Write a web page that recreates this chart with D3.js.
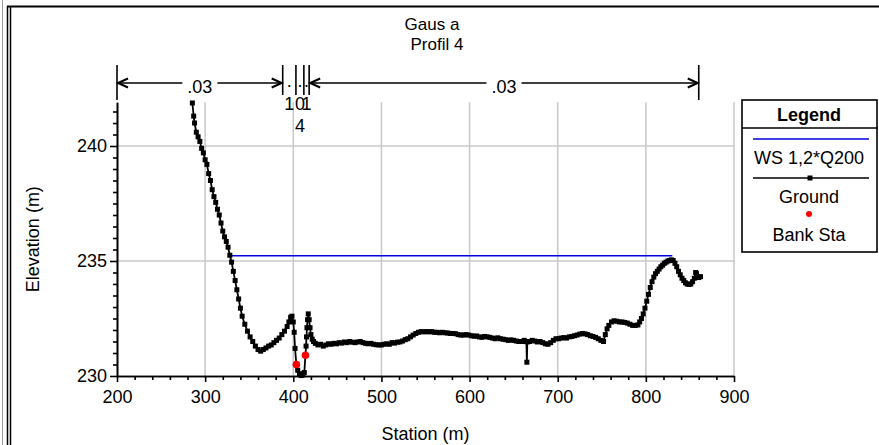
<!DOCTYPE html>
<html>
<head>
<meta charset="utf-8">
<script src="https://cdn.jsdelivr.net/npm/d3@7"></script>
<style>
body { margin: 0; background: #fff; }
text { font-family: "Liberation Sans", Arial, sans-serif; fill: #000; }
</style>
</head>
<body>
<svg id="app" width="879" height="445"></svg>
<script>
// ground profile (station m, elevation m)
const groundSta = [285.5, 287, 288, 290, 292, 294, 296, 298, 300, 302, 304, 306, 308, 310, 312, 314, 316, 318, 320, 322,
  324, 326, 328, 330, 332, 334, 336, 338, 340, 342, 345, 348, 351, 354, 357, 360, 363, 366, 369, 372,
  375, 378, 381, 384, 387, 390, 393, 395, 397, 398.5, 400, 401, 402, 403.5, 405, 407, 409, 411, 412.5, 413.8,
  414.5, 415, 415.5, 416.2, 417, 418, 419, 420, 421.5, 423, 425, 428, 431, 434, 437, 440, 443, 446, 449, 452,
  455, 458, 461, 464, 467, 470, 473, 476, 479, 482, 485, 488, 491, 494, 497, 500, 503, 506, 509, 512,
  515, 518, 521, 524, 527, 530, 533, 536, 539, 542, 545, 548, 551, 554, 557, 560, 563, 566, 569, 572,
  575, 578, 581, 584, 587, 590, 593, 596, 599, 602, 605, 608, 611, 614, 617, 620, 623, 626, 629, 632,
  635, 638, 641, 644, 647, 650, 653, 656, 659, 662, 664.5, 665, 665.5, 668, 671, 674, 677, 680, 683, 686,
  689, 692, 695, 698, 701, 704, 707, 710, 713, 716, 719, 722, 725, 728, 731, 734, 737, 740, 743, 746,
  749, 752, 754, 756, 758, 761, 764, 767, 770, 773, 776, 779, 782, 785, 788, 791, 793, 795, 797, 799,
  801, 803, 805, 807, 809, 811, 813, 815, 817, 819, 821, 823, 825, 827, 829, 831, 833, 835, 837, 839,
  841, 843, 845, 847, 849, 851, 853, 855, 856.5, 857.5, 858.5, 860, 862];
const groundElev = [241.87, 241.3, 241.0, 240.6, 240.4, 240.2, 239.9, 239.7, 239.4, 239.2, 238.8, 238.5, 238.1, 237.8, 237.55, 237.25, 237.0, 236.65, 236.3, 236.05,
  235.85, 235.6, 235.25, 234.95, 234.55, 234.15, 233.75, 233.35, 232.95, 232.6, 232.25, 231.95, 231.7, 231.5, 231.3, 231.15, 231.08, 231.15, 231.22, 231.3,
  231.35, 231.45, 231.55, 231.65, 231.8, 231.95, 232.15, 232.35, 232.55, 232.6, 232.35, 231.9, 231.2, 230.5, 230.25, 230.1, 230.02, 230.05, 230.15, 230.9,
  231.3, 231.7, 232.1, 232.45, 232.7, 232.45, 232.1, 231.8, 231.6, 231.5, 231.42, 231.35, 231.38, 231.3, 231.35, 231.4, 231.38, 231.42, 231.4, 231.45,
  231.43, 231.48, 231.45, 231.5, 231.47, 231.45, 231.48, 231.5, 231.45, 231.42, 231.4, 231.42, 231.38, 231.36, 231.35, 231.35, 231.38, 231.4, 231.38, 231.45,
  231.43, 231.47, 231.48, 231.52, 231.58, 231.62, 231.7, 231.78, 231.85, 231.9, 231.93, 231.92, 231.93, 231.92, 231.93, 231.9, 231.9, 231.88, 231.9, 231.88,
  231.87, 231.85, 231.85, 231.84, 231.8, 231.78, 231.78, 231.8, 231.78, 231.75, 231.73, 231.74, 231.7, 231.68, 231.72, 231.7, 231.68, 231.65, 231.62, 231.66,
  231.62, 231.6, 231.58, 231.55, 231.57, 231.55, 231.52, 231.5, 231.5, 231.55, 231.5, 230.6, 231.48, 231.5, 231.55, 231.52, 231.48, 231.5, 231.45, 231.4,
  231.38, 231.45, 231.55, 231.62, 231.62, 231.65, 231.67, 231.65, 231.7, 231.72, 231.75, 231.78, 231.82, 231.85, 231.83, 231.8, 231.75, 231.72, 231.68, 231.62,
  231.55, 231.5, 231.8, 232.05, 232.2, 232.35, 232.4, 232.38, 232.35, 232.35, 232.33, 232.3, 232.25, 232.2, 232.2, 232.22, 232.35, 232.5, 232.7, 232.95,
  233.25, 233.55, 233.85, 234.1, 234.3, 234.45, 234.55, 234.65, 234.75, 234.82, 234.9, 234.95, 235.0, 235.02, 235.05, 235.02, 234.9, 234.75, 234.55, 234.4,
  234.25, 234.15, 234.05, 234.0, 233.98, 234.0, 234.1, 234.25, 234.5, 234.45, 234.3, 234.28, 234.32];
const bankSta = [403.5, 413.8];
const bankElev = [230.5, 230.9];
const wsSta = [328, 830];
const wsElev = [235.23, 235.23];
// Manning's n breaks and values
const nSta = [200, 388, 403, 412, 418, 860];
const nVal = [".03", ".1", ".04", ".1", ".03"];
const xTicks = [200, 300, 400, 500, 600, 700, 800, 900];
const yTicks = [230, 235, 240];

const FONT = 18;
const PLOT = { LEFT: 117, RIGHT: 734, TOP: 102.3, BOTTOM: 376 };

var svg = d3.select("#app");

const xScale = d3.scaleLinear().domain([200, 900]).range([PLOT.LEFT, PLOT.RIGHT]);
const yScale = d3.scaleLinear().domain([230, 241.9]).range([PLOT.BOTTOM, PLOT.TOP]);

// outer frame
svg.append("line").attr("x1", 2.5).attr("x2", 2.5).attr("y1", 0).attr("y2", 445).attr("stroke", "#999").attr("stroke-width", 1);
svg.append("line").attr("x1", 7.5).attr("x2", 7.5).attr("y1", 6).attr("y2", 445).attr("stroke", "#000").attr("stroke-width", 1.5);
svg.append("line").attr("x1", 10.5).attr("x2", 10.5).attr("y1", 6).attr("y2", 445).attr("stroke", "#000").attr("stroke-width", 1.5);
svg.append("line").attr("x1", 7).attr("x2", 879).attr("y1", 6.5).attr("y2", 6.5).attr("stroke", "#000").attr("stroke-width", 2);

// gridlines
svg.append("g").selectAll("line").data(xTicks.slice(1)).enter().append("line")
  .attr("x1", d => xScale(d)).attr("x2", d => xScale(d))
  .attr("y1", PLOT.TOP).attr("y2", PLOT.BOTTOM)
  .attr("stroke", "#c8c8c8").attr("stroke-width", 1.5);
svg.append("g").selectAll("line").data(yTicks.slice(1)).enter().append("line")
  .attr("x1", PLOT.LEFT).attr("x2", PLOT.RIGHT)
  .attr("y1", d => yScale(d)).attr("y2", d => yScale(d))
  .attr("stroke", "#c8c8c8").attr("stroke-width", 1.5);

// x axis
var gx = svg.append("g").attr("transform", `translate(0,${PLOT.BOTTOM})`)
  .call(d3.axisBottom(xScale).tickValues(xTicks).tickSize(6).tickSizeOuter(0).tickPadding(8).tickFormat(d3.format("d")));
svg.append("g").attr("transform", `translate(0,${PLOT.BOTTOM})`)
  .call(d3.axisBottom(xScale).tickValues(d3.range(220, 900, 20).filter(d => d % 100 != 0)).tickSize(4).tickSizeOuter(0).tickFormat(""));

// y axis
var gy = svg.append("g").attr("transform", `translate(${PLOT.LEFT},0)`)
  .call(d3.axisLeft(yScale).tickValues(yTicks).tickSize(7).tickSizeOuter(0).tickPadding(3));
svg.append("g").attr("transform", `translate(${PLOT.LEFT},0)`)
  .call(d3.axisLeft(yScale).tickValues(d3.range(230.5, 241.9, 0.5).filter(d => d % 5 != 0)).tickSize(4).tickSizeOuter(0).tickFormat(""));

svg.selectAll(".domain, .tick line").attr("stroke", "#000").attr("stroke-width", 1.6);
svg.selectAll(".tick text").attr("font-size", FONT).attr("font-family", "Liberation Sans, Arial, sans-serif");

// axis titles
svg.append("text").attr("x", (PLOT.LEFT + PLOT.RIGHT) / 2).attr("y", 440)
  .attr("text-anchor", "middle").attr("font-size", FONT).text("Station (m)");
svg.append("text").attr("transform", `translate(39,${(PLOT.TOP + PLOT.BOTTOM) / 2}) rotate(-90)`)
  .attr("text-anchor", "middle").attr("font-size", FONT).text("Elevation (m)");

// title
svg.append("text").attr("x", 432).attr("y", 30).attr("text-anchor", "middle").attr("font-size", FONT - 1).text("Gaus a");
svg.append("text").attr("x", 437).attr("y", 50).attr("text-anchor", "middle").attr("font-size", FONT - 1).text("Profil 4");

// Manning's n brackets
var nG = svg.append("g").attr("stroke", "#000").attr("stroke-width", 1.6).attr("fill", "none");
const AY = 83;
nSta.forEach((s, i) => {
  var end = (i == 0 || i == nSta.length - 1);
  nG.append("line").attr("x1", xScale(s)).attr("x2", xScale(s))
    .attr("y1", 65).attr("y2", end ? 100 : 95);
});
function arrowHead(x, dir) {
  nG.append("path").attr("d", `M${x + dir * 10},${AY - 4.5} L${x},${AY} L${x + dir * 10},${AY + 4.5}`).attr("stroke-width", 2);
}
nVal.forEach((v, i) => {
  var a = xScale(nSta[i]), b = xScale(nSta[i + 1]), cx = (a + b) / 2;
  if (b - a > 60) {
    var t = svg.append("text").attr("x", cx).attr("y", AY + 10).attr("text-anchor", "middle")
      .attr("font-size", FONT).text(v);
    var w = t.node().getComputedTextLength();
    nG.append("line").attr("x1", a).attr("x2", cx - w / 2 - 5).attr("y1", AY).attr("y2", AY);
    nG.append("line").attr("x1", cx + w / 2 + 5).attr("x2", b).attr("y1", AY).attr("y2", AY);
    arrowHead(a + 1, 1);
    arrowHead(b - 1, -1);
  } else {
    // narrow zone: characters stacked
    v.split("").forEach((c, j) => {
      svg.append("text").attr("x", cx).attr("y", j == 0 ? AY + 4 : 88 + j * 22)
        .attr("text-anchor", "middle").attr("font-size", FONT).text(c);
    });
  }
});

// water surface
svg.append("path").datum(d3.zip(wsSta, wsElev))
  .attr("d", d3.line().x(d => xScale(d[0])).y(d => yScale(d[1])))
  .attr("stroke", "#0000e0").attr("stroke-width", 1.6).attr("fill", "none");

// ground
const ground = d3.zip(groundSta, groundElev);
svg.append("path").datum(ground)
  .attr("d", d3.line().x(d => xScale(d[0])).y(d => yScale(d[1])))
  .attr("stroke", "#000").attr("stroke-width", 1.8).attr("fill", "none");
svg.append("g").selectAll("rect").data(ground).enter().append("rect")
  .attr("x", d => xScale(d[0]) - 2.5).attr("y", d => yScale(d[1]) - 2.5)
  .attr("width", 5).attr("height", 5).attr("fill", "#000");

// bank stations
svg.append("g").selectAll("circle").data(d3.zip(bankSta, bankElev)).enter().append("circle")
  .attr("cx", d => xScale(d[0])).attr("cy", d => yScale(d[1])).attr("r", 3.8).attr("fill", "#ff0000");

// legend
var lg = svg.append("g");
lg.append("rect").attr("x", 742).attr("y", 100).attr("width", 135).attr("height", 152)
  .attr("fill", "#fff").attr("stroke", "#000").attr("stroke-width", 1.6);
lg.append("line").attr("x1", 742).attr("x2", 878).attr("y1", 128).attr("y2", 128).attr("stroke", "#000").attr("stroke-width", 1.6);
lg.append("text").attr("x", 809).attr("y", 121).attr("text-anchor", "middle")
  .attr("font-size", FONT).attr("font-weight", "bold").text("Legend");
lg.append("line").attr("x1", 753).attr("x2", 869).attr("y1", 139).attr("y2", 139).attr("stroke", "#0000e0").attr("stroke-width", 1.6);
lg.append("text").attr("x", 809).attr("y", 164).attr("text-anchor", "middle").attr("font-size", FONT).text("WS 1,2*Q200");
lg.append("line").attr("x1", 753).attr("x2", 869).attr("y1", 178).attr("y2", 178).attr("stroke", "#000").attr("stroke-width", 1.6);
lg.append("rect").attr("x", 807.5).attr("y", 175.5).attr("width", 5).attr("height", 5).attr("fill", "#000");
lg.append("text").attr("x", 809).attr("y", 203).attr("text-anchor", "middle").attr("font-size", FONT).text("Ground");
lg.append("circle").attr("cx", 809).attr("cy", 214).attr("r", 3).attr("fill", "#ff0000");
lg.append("text").attr("x", 809).attr("y", 241).attr("text-anchor", "middle").attr("font-size", FONT).text("Bank Sta");
</script>
</body>
</html>
